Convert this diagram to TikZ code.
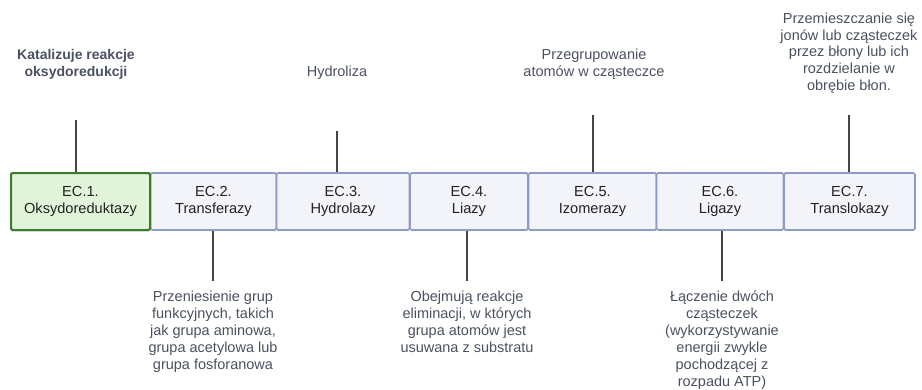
\documentclass[tikz,border=0pt]{standalone}
\usepackage{fontspec}
\setmainfont{Liberation Sans}
\definecolor{txt}{HTML}{4A5160}
\definecolor{boxtxt}{HTML}{222222}
\definecolor{gfill}{HTML}{E1F4D9}
\definecolor{gdraw}{HTML}{3E7A2E}
\definecolor{bfill}{HTML}{F2F4FA}
\definecolor{bdraw}{HTML}{8E9CC4}
\definecolor{lin}{HTML}{444444}
\begin{document}
\begin{tikzpicture}[x=1pt,y=-1pt,
  ecbox/.style={draw=bdraw,fill=bfill,line width=1.6pt,rounded corners=1.5pt,inner sep=0pt,
    text=boxtxt,align=center,font=\fontsize{14.6}{17}\selectfont},
  ecgreen/.style={ecbox,draw=gdraw,fill=gfill,line width=2pt},
  desc/.style={text=txt,align=center,font=\fontsize{14.5}{16.9}\selectfont,inner sep=0pt},
  tick/.style={draw=lin,line width=1.8pt}]
\useasboundingbox (0,0) rectangle (922,389);
% boxes
\node[ecgreen,minimum width=139pt,minimum height=57pt] (b1) at (80.5,201.5) {EC.1.\\Oksydoreduktazy};
\node[ecbox,minimum width=126pt,minimum height=57pt] (b2) at (213.5,201.5) {EC.2.\\Transferazy};
\node[ecbox,minimum width=133pt,minimum height=57pt] (b3) at (343,201.5) {EC.3.\\Hydrolazy};
\node[ecbox,minimum width=118pt,minimum height=57pt] (b4) at (469,201.5) {EC.4.\\Liazy};
\node[ecbox,minimum width=128pt,minimum height=57pt] (b5) at (592.5,201.5) {EC.5.\\Izomerazy};
\node[ecbox,minimum width=127pt,minimum height=57pt] (b6) at (720,201.5) {EC.6.\\Ligazy};
\node[ecbox,minimum width=131pt,minimum height=57pt] (b7) at (849.5,201.5) {EC.7.\\Translokazy};
% redraw green on top
\node[ecgreen,minimum width=139pt,minimum height=57pt] at (80.5,201.5) {EC.1.\\Oksydoreduktazy};
% tick end points
\coordinate (t1) at (76,120);
\coordinate (t3) at (337,131);
\coordinate (t5) at (593,115);
\coordinate (t7) at (849,115);
\coordinate (t2) at (213,281);
\coordinate (t4) at (467,281);
\coordinate (t6) at (722,281);
\draw[tick] (t1) -- (t1 |- b1.north);
\draw[tick] (t3) -- (t3 |- b3.north);
\draw[tick] (t5) -- (t5 |- b5.north);
\draw[tick] (t7) -- (t7 |- b7.north);
\draw[tick] (t2) -- (t2 |- b2.south);
\draw[tick] (t4) -- (t4 |- b4.south);
\draw[tick] (t6) -- (t6 |- b6.south);
% descriptions
\node[desc,anchor=south,font=\bfseries\fontsize{14}{17.5}\selectfont] (d1) at (76,80) {Katalizuje reakcje\\oksydoredukcji};
\node[desc,anchor=south] (d3) at (337,80) {Hydroliza};
\node[desc,anchor=south] (d5) at (594,80) {Przegrupowanie\\atomów w cząsteczce};
\node[desc,anchor=south] (d7) at (849,94) {Przemieszczanie się\\jonów lub cząsteczek\\przez błony lub ich\\rozdzielanie w\\obrębie błon.};
\node[desc,anchor=north] (d2) at (213,291) {Przeniesienie grup\\funkcyjnych, takich\\jak grupa aminowa,\\grupa acetylowa lub\\grupa fosforanowa};
\node[desc,anchor=north] (d4) at (467,291) {Obejmują reakcje\\eliminacji, w których\\grupa atomów jest\\usuwana z substratu};
\node[desc,anchor=north] (d6) at (722,291) {Łączenie dwóch\\cząsteczek\\(wykorzystywanie\\energii zwykle\\pochodzącej z\\rozpadu ATP)};
\end{tikzpicture}
\end{document}
